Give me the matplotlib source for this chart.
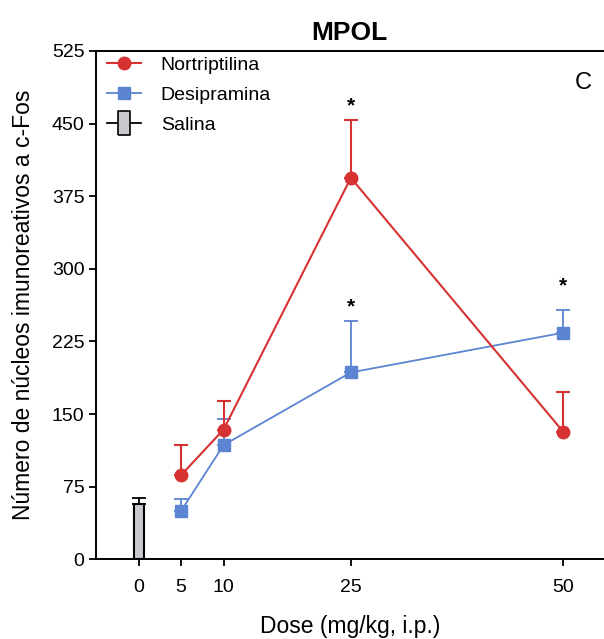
import matplotlib
matplotlib.use('Agg')
import matplotlib.pyplot as plt
from matplotlib.lines import Line2D

plt.rcParams['font.family'] = ['Liberation Sans', 'DejaVu Sans']

# dados
doses = [5, 10, 25, 50]
nortriptilina = [87, 134, 394, 132]
nortriptilina_sem = [31, 30, 60, 41]
desipramina = [50, 118, 193, 234]
desipramina_sem = [12, 27, 53, 23]
salina_dose = [0]
salina = [57]
salina_sem = [6]
# asteriscos (dose, altura)
sig_x = [25, 25, 50]
sig_y = [468, 261, 282]

red = '#d63232'
blue = '#5b84d2'

fig = plt.figure(figsize=(6.04, 6.39), dpi=100)
ax = fig.add_axes([0.1584, 0.1247, 1 - 0.1584, 0.9202 - 0.1247])

ax.bar(salina_dose, salina, width=1.2, color='#c9c9cd', edgecolor='black', linewidth=1.5,
       yerr=[[0] * len(salina), salina_sem], capsize=5,
       error_kw=dict(ecolor='black', elinewidth=1.3, capthick=1.3), zorder=2)

ax.errorbar(doses, desipramina, yerr=[[0] * 4, desipramina_sem], color=blue, marker='s',
            markersize=8, linewidth=1.3, capsize=5, elinewidth=1.3, capthick=1.3, zorder=3)
ax.errorbar(doses, nortriptilina, yerr=[[0] * 4, nortriptilina_sem], color=red, marker='o',
            markersize=9, linewidth=1.5, capsize=5, elinewidth=1.5, capthick=1.5, zorder=4)

for x, y in zip(sig_x, sig_y):
    ax.text(x, y, '*', ha='center', va='center', fontsize=15, fontweight='bold')

ax.set_xlim(-5.07, 54.83)
ax.set_ylim(0, 525)
ax.set_xticks([0, 5, 10, 25, 50])
ax.set_yticks(range(0, 526, 75))
ax.tick_params(axis='both', direction='out', length=5, width=1.3, labelsize=14)
ax.tick_params(axis='x', pad=9)
ax.tick_params(axis='y', pad=3)
ax.spines['right'].set_visible(False)
for s in ['left', 'bottom', 'top']:
    ax.spines[s].set_linewidth(1.4)

ax.set_title('MPOL', fontsize=19, fontweight='bold', pad=8)
ax.set_xlabel('Dose (mg/kg, i.p.)', fontsize=16.5, labelpad=14)
ax.set_ylabel('Número de núcleos imunoreativos a c-Fos', fontsize=16.5, labelpad=12)
ax.text(0.959, 0.937, 'C', transform=ax.transAxes, fontsize=17, ha='center', va='center')

salina_handle = Line2D([0], [0], color='black', lw=1.3,
                       marker=[(-0.5, -1), (0.5, -1), (0.5, 1), (-0.5, 1), (-0.5, -1)],
                       markersize=17, markerfacecolor='#c9c9cd', markeredgecolor='black',
                       markeredgewidth=1.2)
handles = [Line2D([0], [0], color=red, lw=1.5, marker='o', markersize=9),
           Line2D([0], [0], color=blue, lw=1.3, marker='s', markersize=8),
           salina_handle]
ax.legend(handles, ['Nortriptilina', 'Desipramina', 'Salina'], loc='upper left',
          bbox_to_anchor=(0.0, 1.013), frameon=False, fontsize=14, handlelength=1.75,
          handletextpad=1.0, labelspacing=0.65, borderaxespad=0.2)

fig.savefig('out.png', dpi=100)
